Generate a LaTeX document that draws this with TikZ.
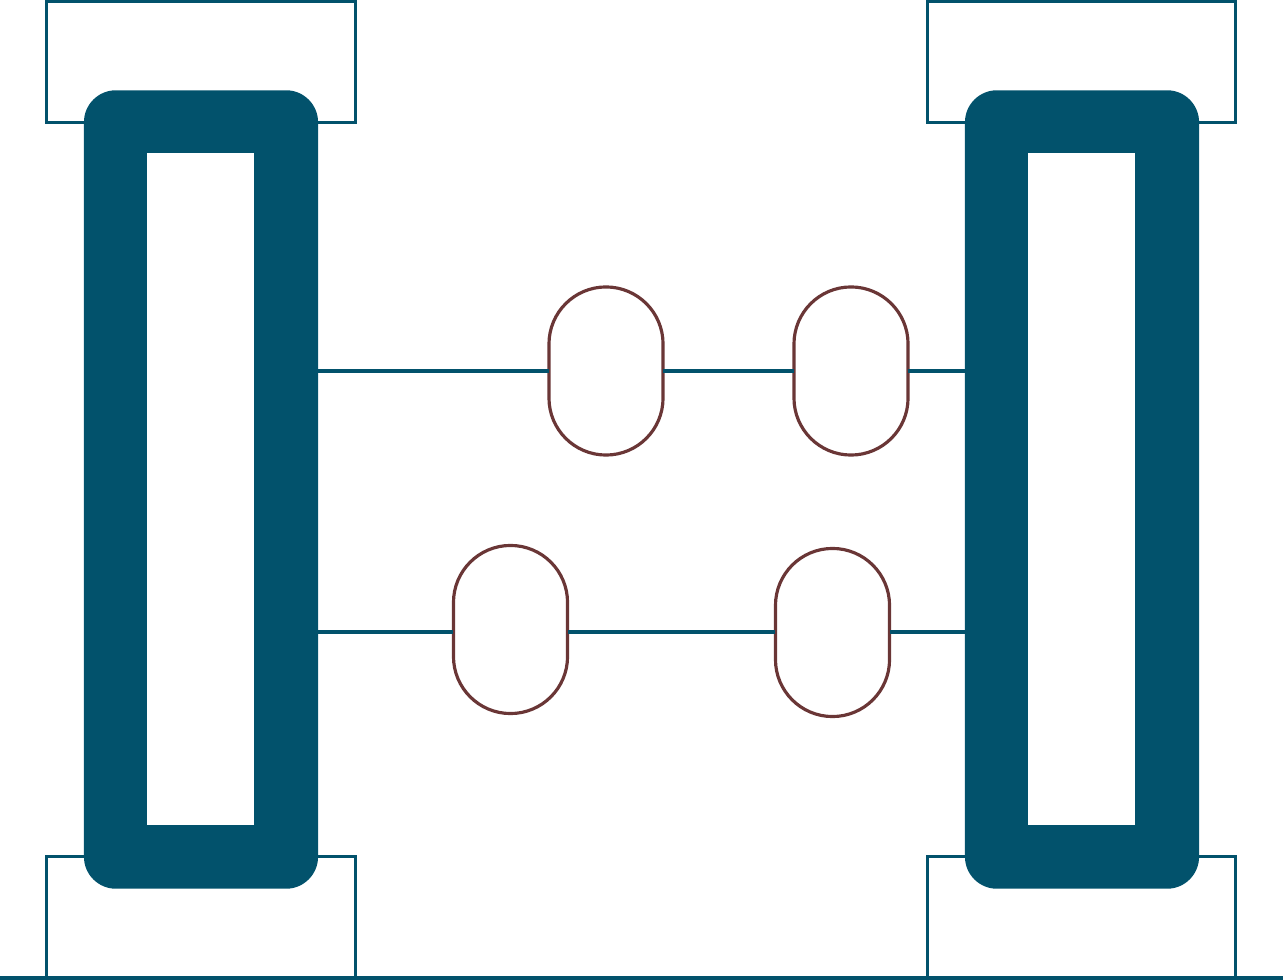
\documentclass[tikz,border=0pt]{standalone}
\definecolor{tealbar}{HTML}{02526C}
\definecolor{brownpill}{HTML}{6A3636}
\tikzset{
  capbox/.style={draw=tealbar, line width=0.9pt, rectangle, inner sep=0pt, outer sep=0pt, minimum width=3.085cm, minimum height=1.21cm},
  barbox/.style={fill=tealbar, rectangle, rounded corners=0.32cm, inner sep=0pt, outer sep=0pt, minimum width=2.34cm, minimum height=7.98cm},
  slotbox/.style={fill=white, rectangle, inner sep=0pt, outer sep=0pt, minimum width=1.07cm, minimum height=6.72cm},
  pillbox/.style={draw=brownpill, fill=white, line width=0.9pt, rectangle, rounded corners=0.57cm, inner sep=0pt, outer sep=0pt, minimum width=1.14cm, minimum height=1.68cm},
  wire/.style={draw=tealbar, line width=0.9pt}
}
\begin{document}
\begin{tikzpicture}[x=0.01cm,y=-0.01cm]
\useasboundingbox (0,0) rectangle (1283,980);
% caps
\node[capbox] (capTL) at (201,62) {};
\node[capbox] (capTR) at (1081.5,62) {};
\node[capbox] (capBL) at (201,917) {};
\node[capbox] (capBR) at (1081.5,917) {};
% ground
\coordinate (groundL) at (0,978);
\coordinate (groundR) at (1283,978);
\draw[tealbar, line width=1.15pt] (groundL) -- (groundR);
% bars
\node[barbox] (barL) at (201,489.5) {};
\node[barbox] (barR) at (1082,489.5) {};
\node[slotbox] (slotL) at (200.5,489) {};
\node[slotbox] (slotR) at (1081.5,489) {};
% beads
\node[pillbox] (pillA) at (606,371) {};
\node[pillbox] (pillB) at (851,371) {};
\node[pillbox] (pillC) at (510.5,629.5) {};
\node[pillbox] (pillD) at (832.5,632.5) {};
\coordinate (rowB) at (0,632);
%
\draw[wire] (barL.east |- pillA.west) -- (pillA.west);
\draw[wire] (pillA.east) -- (pillB.west);
\draw[wire] (pillB.east) -- (barR.west |- pillB.east);
\draw[wire] (barL.east |- rowB) -- (pillC.west |- rowB);
\draw[wire] (pillC.east |- rowB) -- (pillD.west |- rowB);
\draw[wire] (pillD.east |- rowB) -- (barR.west |- rowB);
\end{tikzpicture}
\end{document}
